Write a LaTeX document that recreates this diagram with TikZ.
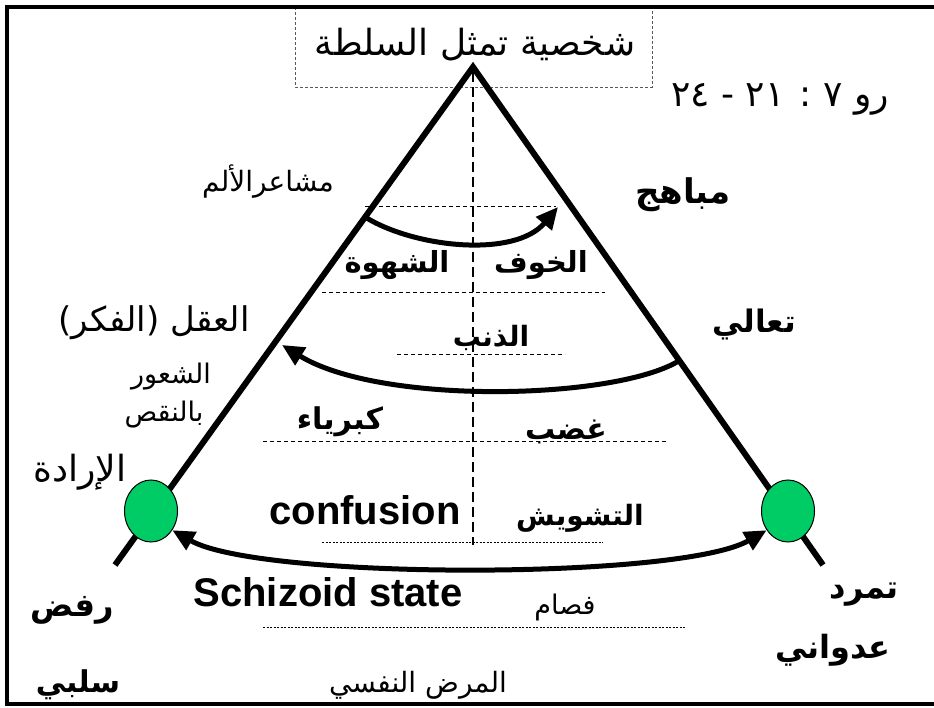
\documentclass[tikz,border=0pt]{standalone}
\usepackage{fontspec}
\setmainfont{Liberation Sans}
\newfontfamily\arabicfont[Script=Arabic]{DejaVu Sans}
\TeXXeTstate=1
\usetikzlibrary{arrows.meta,shapes.geometric}

\newcommand\rtl[1]{\arabicfont\beginR #1\endR}

\tikzset{
  side/.style={line width=6pt},
  midline/.style={line width=2pt, dash pattern=on 10pt off 5pt},
  level/.style={line width=1pt, dash pattern=on 4pt off 3pt},
  fineline/.style={line width=0.8pt, dash pattern=on 2pt off 1.5pt},
  flow/.style={line width=5pt, -{Triangle[length=22pt,width=20pt]}},
  ball/.style={ellipse, draw, line width=1pt, fill=ballgreen,
    minimum width=53pt, minimum height=62pt, inner sep=0pt},
  lbl/.style={inner sep=0pt, font=\fontsize{#1}{#1}\selectfont},
  heavy/.style={inner sep=0pt, font=\fontsize{#1}{#1}\selectfont\bfseries}
}
\definecolor{ballgreen}{RGB}{0,204,102}

\begin{document}
\begin{tikzpicture}[x=1pt, y=-1pt]
  \useasboundingbox (0,0) rectangle (934,708);

  % frame and title box
  \draw[gray!70!black, line width=0.8pt, dash pattern=on 3pt off 2pt] (295,7) rectangle (652,87);
  \draw[line width=3.5pt] (934,7) -- (7,7) -- (7,704) -- (934,704);
  \node[lbl=36] (title) at (475,45) {\rtl{شخصية تمثل السلطة}};
  \node[lbl=36] (verse) at (780,99) {\rtl{رو ٧ : \beginL ٢١\endL{} - \beginL ٢٤\endL}};

  % the triangle
  \coordinate (top) at (473,67);
  \coordinate (baseL) at (115,565);
  \coordinate (baseR) at (823,565);
  \draw[midline] (473,72) -- (473,545);
  \draw[side] (baseL) -- (top) -- (baseR);

  % levels
  \draw[level] (365,207) -- (556,207);
  \draw[level] (322,293) -- (605,293);
  \draw[level] (397,355) -- (565,355);
  \draw[level] (263,441) -- (668,441);
  \draw[fineline] (322,542) -- (603,542);
  \draw[fineline] (263,627) -- (685,627);

  \node[ball] (will) at (151,511) {};
  \node[ball] (rebel) at (788,511) {};

  % arrows
  \coordinate (painL) at (365,217);
  \coordinate (joyR) at (558,207);
  \coordinate (highR) at (677,362);
  \coordinate (mindL) at (282,345);
  \draw[flow] (painL) .. controls (415,248) and (515,258) .. (joyR);
  \draw[flow] (highR) .. controls (610,400) and (380,405) .. (mindL);
  \draw[flow, {Triangle[length=22pt,width=20pt]}-{Triangle[length=22pt,width=20pt]}]
    (will.-42) .. controls (260,580) and (680,580) .. (rebel.-138);

  % labels inside
  \node[heavy=29] (lust) at (397,265) {\rtl{الشهوة}};
  \node[heavy=29] (fear) at (541,265) {\rtl{الخوف}};
  \node[heavy=28] (guilt) at (491,338) {\rtl{الذنب}};
  \node[heavy=30] (pride) at (340,422) {\rtl{كبرياء}};
  \node[heavy=30] (anger) at (566,432) {\rtl{غضب}};
  \node[heavy=40] (confusion) at (365,510) {confusion};
  \node[heavy=28] (chaos) at (580,518) {\rtl{التشويش}};
  \node[heavy=40] (schizoid) at (328,592) {Schizoid state};
  \node[lbl=27] (fisam) at (565,607) {\rtl{فصام}};
  \node[lbl=28] (illness) at (418,685) {\rtl{المرض النفسي}};

  % labels outside
  \node[lbl=28] (pain) at (268,182) {\rtl{مشاعرالألم}};
  \node[heavy=34] (joys) at (683,195) {\rtl{مباهج}};
  \node[lbl=34] (mind) at (154,323) {\rtl{العقل (الفكر)}};
  \node[lbl=27] (lack) at (171,377) {\rtl{الشعور}};
  \node[lbl=27] (lack2) at (164,415) {\rtl{بالنقص}};
  \node[lbl=36] (willtxt) at (80,472) {\rtl{الإرادة}};
  \node[heavy=31] (transc) at (754,325) {\rtl{تعالي}};
  \node[heavy=32] (refuse) at (72,610) {\rtl{رفض}};
  \node[heavy=30] (passive) at (78,685) {\rtl{سلبي}};
  \node[heavy=32] (revolt) at (864,595) {\rtl{تمرد}};
  \node[heavy=32] (aggr) at (833,650) {\rtl{عدواني}};
\end{tikzpicture}
\end{document}
